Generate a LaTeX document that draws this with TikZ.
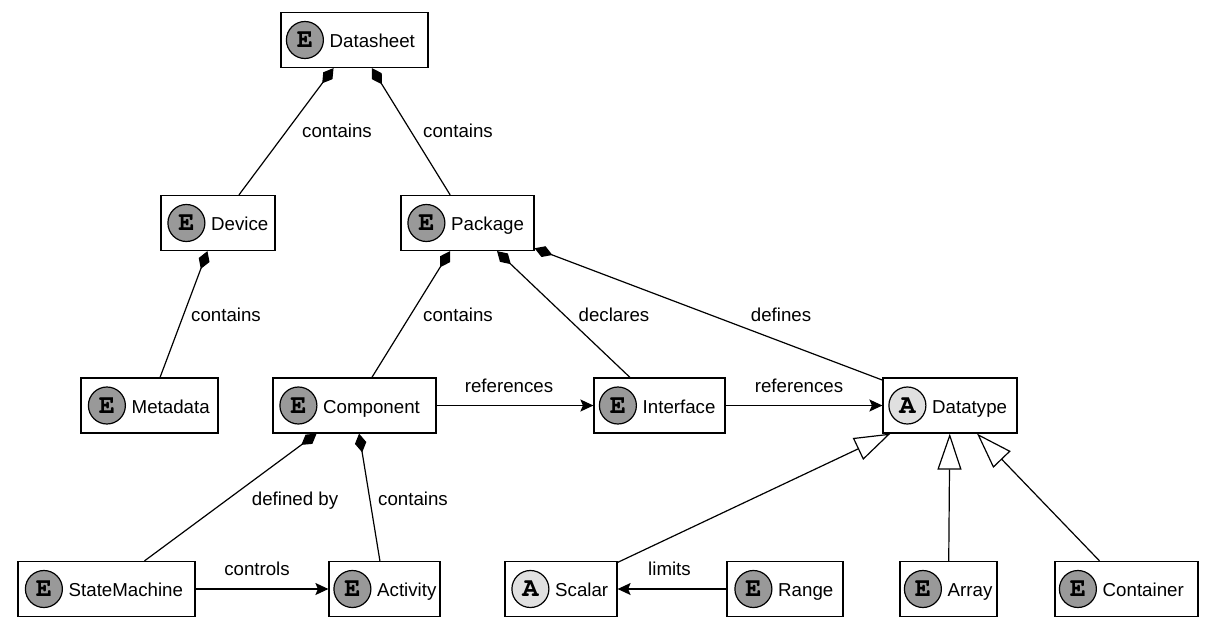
\documentclass[tikz,border=0pt]{standalone}
\usepackage{fontspec}
\setmainfont{Liberation Sans}
\usetikzlibrary{arrows.meta}
\definecolor{efill}{HTML}{999999}
\definecolor{afill}{HTML}{E0E0E0}
\newcommand\myiconfont{\fontencoding{T1}\fontfamily{pcr}\fontseries{b}\fontsize{27}{27}\selectfont}
\tikzset{
  ebox/.style={draw=black, line width=1.2pt, fill=white, minimum height=55pt, inner sep=0pt},
  ecirc/.style={circle, draw=black, line width=1.2pt, fill=efill, minimum size=37pt, inner sep=0pt, font=\myiconfont},
  acirc/.style={ecirc, fill=afill},
  etext/.style={anchor=base west, inner sep=0pt, font=\fontsize{18.7}{22}\selectfont},
  lab/.style={anchor=base, inner sep=0pt, font=\fontsize{18.7}{22}\selectfont},
  conn/.style={line width=1.2pt, draw=black},
  compo/.style={conn, arrows={{Diamond[length=19pt,width=11.5pt]}-}},
  assoc/.style={conn, arrows={-{Stealth[length=13pt,width=12pt,inset=2.5pt]}}},
  gener/.style={conn, arrows={-{Triangle[length=36pt,width=24pt,fill=white]}}}
}
\newcommand\ent[8]{%
  \node[ebox, minimum width=#4pt] (#1) at (#2,#3) {};
  \node[#5] (#1-i) at ([xshift=#8pt]#1.west) {#6};
  \node[etext] (#1-t) at ([xshift=5.5pt, yshift=-7.5pt]#1-i.east) {#7};
}
\begin{document}
\begin{tikzpicture}[x=1pt, y=-1pt]
\useasboundingbox[fill=white] (0,0) rectangle (1222,626);
% entities
\ent{ds}{354.5}{40}{147}{ecirc}{E}{Datasheet}{24.5}
\ent{dev}{218}{223}{114}{ecirc}{E}{Device}{26}
\ent{pkg}{467.5}{223}{133}{ecirc}{E}{Package}{26}
\ent{meta}{149.5}{405.5}{137}{ecirc}{E}{Metadata}{26.5}
\ent{cmp}{354.5}{405.5}{163}{ecirc}{E}{Component}{26}
\ent{intf}{659.5}{405.5}{131}{ecirc}{E}{Interface}{24.5}
\ent{dt}{950}{405.5}{134}{acirc}{A}{Datatype}{25}
\ent{sm}{106.5}{589}{177}{ecirc}{E}{StateMachine}{26.5}
\ent{act}{384.5}{589}{111}{ecirc}{E}{Activity}{24}
\ent{sc}{561}{589}{112}{acirc}{A}{Scalar}{26}
\ent{rng}{785}{589}{116}{ecirc}{E}{Range}{27}
\ent{arr}{948.5}{589}{97}{ecirc}{E}{Array}{23.5}
\ent{cont}{1126.5}{589}{143}{ecirc}{E}{Container}{23.5}
% compositions
\draw[compo] (ds) -- (dev);
\draw[compo] (ds) -- (pkg);
\draw[compo] (dev) -- (meta);
\draw[compo] (pkg) -- (cmp);
\draw[compo] (pkg) -- (intf);
\draw[compo] (pkg) -- (dt);
\draw[compo] (cmp) -- (sm);
\draw[compo] (cmp) -- (act);
% associations
\draw[assoc] (cmp) -- (intf);
\draw[assoc] (intf) -- (dt);
\draw[assoc] (sm) -- (act);
\draw[assoc] (rng) -- (sc);
% generalizations
\draw[gener] (sc) -- (dt);
\draw[gener] (arr) -- (dt);
\draw[gener] (cont) -- (dt);
% labels
\node[lab] (l1) at (337,137) {contains};
\node[lab] (l2) at (458,137) {contains};
\node[lab] (l3) at (226,321.5) {contains};
\node[lab] (l4) at (458,321.5) {contains};
\node[lab] (l5) at (614,321.5) {declares};
\node[lab] (l6) at (781,321.5) {defines};
\node[lab] (l7) at (509,392.5) {references};
\node[lab] (l8) at (799,392.5) {references};
\node[lab] (l9) at (295,505) {defined by};
\node[lab] (l10) at (413,505) {contains};
\node[lab] (l11) at (257,575) {controls};
\node[lab] (l12) at (669.5,575) {limits};
\end{tikzpicture}
\end{document}
